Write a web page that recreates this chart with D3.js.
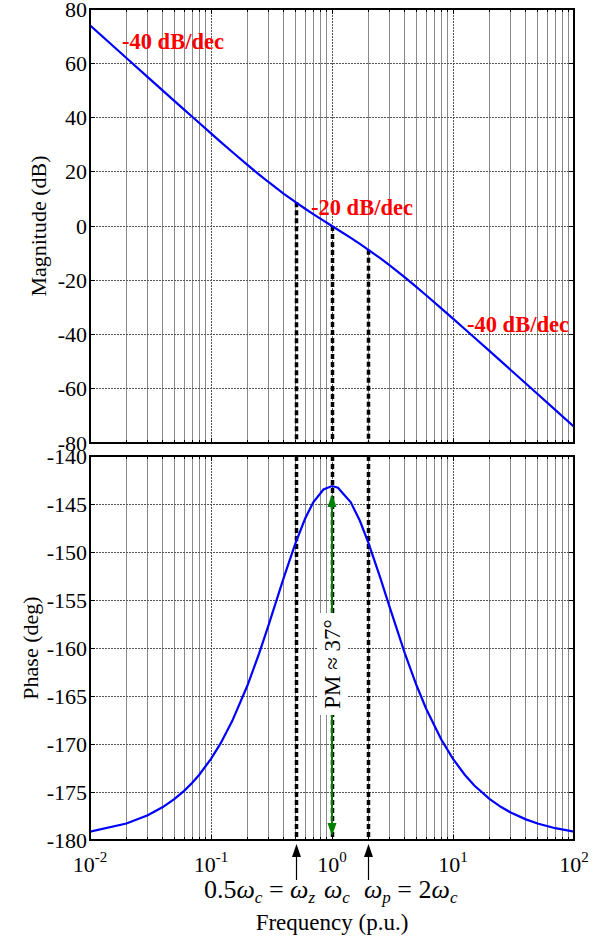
<!DOCTYPE html>
<html>
<head>
<meta charset="utf-8">
<script src="https://cdn.jsdelivr.net/npm/d3@7/dist/d3.min.js"></script>
<style>
  html, body { margin: 0; padding: 0; background: #fff; }
  svg { display: block; }
  text { font-family: "Liberation Serif", "Times New Roman", serif; }
</style>
</head>
<body>
<svg id="chart" width="602" height="938"></svg>
<script>
// Open-loop frequency response (per-unit frequency)
const freq = [0.01, 0.02, 0.03, 0.04, 0.05, 0.06, 0.07, 0.08, 0.1, 0.12, 0.15, 0.2, 0.25, 0.3, 0.4,
  0.5, 0.6, 0.7, 0.85, 1.0, 1.12, 1.43, 1.7, 2.0, 2.5, 3, 4, 5, 6, 8, 10, 12.5, 15, 20, 25, 30, 40, 50, 70, 100];
const magnitudeDb = [73.98, 61.94, 54.91, 49.92, 46.06, 42.91, 40.26, 37.96, 34.14, 31.04, 27.29, 22.54, 18.96, 16.13, 11.88,
  8.77, 6.35, 4.39, 1.98, 0.0, -1.38, -4.40, -6.61, -8.77, -11.88, -14.54, -18.96, -22.54, -25.53, -30.35,
  -34.14, -37.96, -41.10, -46.06, -49.92, -53.08, -58.07, -61.94, -67.79, -73.98];
const phaseDeg = [-179.14, -178.28, -177.43, -176.57, -175.72, -174.88, -174.04, -173.20, -171.55, -169.94, -167.59, -163.91, -160.56, -157.57, -152.65,
  -149.04, -146.51, -144.83, -143.49, -143.13, -143.31, -144.83, -146.75, -149.04, -152.65, -155.77, -160.56, -163.91, -166.33, -169.54,
  -171.55, -173.20, -174.32, -175.72, -176.57, -177.14, -177.85, -178.28, -178.77, -179.14];

const magTicks = [80, 60, 40, 20, 0, -20, -40, -60, -80];
const phaseTicks = [-140, -145, -150, -155, -160, -165, -170, -175, -180];
const decadeTicks = [0.01, 0.1, 1, 10, 100];
const decadeExponents = ["-2", "-1", "0", "1", "2"];

// Corner frequencies: zero, crossover, pole
const markerFreqs = [0.5, 1, 2];
const slopeLabels = ["-40 dB/dec", "-20 dB/dec", "-40 dB/dec"];
const phaseMarginLabel = "PM \u2248 37\u00B0";

const svg = d3.select("#chart");
const left = 90, right = 574;
const x = d3.scaleLog().domain([0.01, 100]).range([left, right]);
const yMag = d3.scaleLinear().domain([-80, 80]).range([443, 9]);
const yPh = d3.scaleLinear().domain([-180, -140]).range([840, 456]);

// minor + major vertical grid positions
const gridFreqs = [];
for (let e = -2; e <= 1; e++) for (let k = 1; k <= 9; k++) gridFreqs.push(k * Math.pow(10, e));
gridFreqs.push(100);

function drawPanel(y, ticks) {
  const g = svg.append("g");
  const [y0, y1] = y.range(); // bottom, top
  // vertical grid
  g.selectAll("line.vg").data(gridFreqs.filter(f => f > 0.01 && f < 100)).join("line")
    .attr("x1", d => x(d)).attr("x2", d => x(d)).attr("y1", y1).attr("y2", y0)
    .attr("stroke", d => decadeTicks.includes(d) ? "#555" : "#8a8a8a")
    .attr("stroke-width", 1)
    .attr("stroke-dasharray", d => decadeTicks.includes(d) ? "2,1" : null)
    .attr("shape-rendering", "crispEdges");
  // horizontal grid
  g.selectAll("line.hg").data(ticks.slice(1, -1)).join("line")
    .attr("x1", left).attr("x2", right).attr("y1", d => y(d)).attr("y2", d => y(d))
    .attr("stroke", "#555").attr("stroke-width", 1).attr("stroke-dasharray", "2,1")
    .attr("shape-rendering", "crispEdges");
  // x tick marks (inside, top and bottom)
  const tk = g.append("g");
  gridFreqs.forEach(f => {
    const len = decadeTicks.includes(f) ? 5 : 3;
    tk.append("line").attr("x1", x(f)).attr("x2", x(f)).attr("y1", y0).attr("y2", y0 - len)
      .attr("stroke", "#000").attr("stroke-width", 1).attr("shape-rendering", "crispEdges");
    tk.append("line").attr("x1", x(f)).attr("x2", x(f)).attr("y1", y1).attr("y2", y1 + len)
      .attr("stroke", "#000").attr("stroke-width", 1).attr("shape-rendering", "crispEdges");
  });
  // y ticks (inside, left and right)
  ticks.forEach(t => {
    tk.append("line").attr("x1", left).attr("x2", left + 5).attr("y1", y(t)).attr("y2", y(t))
      .attr("stroke", "#000").attr("shape-rendering", "crispEdges");
    tk.append("line").attr("x1", right).attr("x2", right - 5).attr("y1", y(t)).attr("y2", y(t))
      .attr("stroke", "#000").attr("shape-rendering", "crispEdges");
  });
  // y tick labels
  g.selectAll("text.yt").data(ticks).join("text")
    .attr("x", left - 3).attr("y", d => y(d)).attr("dy", "0.35em")
    .attr("text-anchor", "end").attr("font-size", 22).text(d => d);
  return g;
}

drawPanel(yMag, magTicks);
drawPanel(yPh, phaseTicks);

// clip paths for the curves
const defs = svg.append("defs");
defs.append("clipPath").attr("id", "clipMag").append("rect")
  .attr("x", left).attr("y", 9).attr("width", right - left).attr("height", 443 - 9);
defs.append("clipPath").attr("id", "clipPh").append("rect")
  .attr("x", left).attr("y", 456).attr("width", right - left).attr("height", 840 - 456);

// dashed markers at the corner frequencies
markerFreqs.forEach(f => {
  const i = freq.indexOf(f);
  const mx = Math.round(x(f)) + 0.5;
  svg.append("line").attr("x1", mx).attr("x2", mx)
    .attr("y1", yMag(magnitudeDb[i])).attr("y2", 443)
    .attr("stroke", "#000").attr("stroke-width", 3.5).attr("stroke-dasharray", "5,3");
  svg.append("line").attr("x1", mx).attr("x2", mx)
    .attr("y1", 456).attr("y2", 840)
    .attr("stroke", "#000").attr("stroke-width", 3.5).attr("stroke-dasharray", "5,3");
});

// phase margin annotation
const peakIdx = freq.indexOf(1);
const pmX = x(1);
svg.append("rect").attr("x", pmX - 15).attr("y", 613).attr("width", 30).attr("height", 102).attr("fill", "#fff");
const green = "#008000";
svg.append("line").attr("x1", pmX).attr("x2", pmX).attr("y1", yPh(phaseDeg[peakIdx]) + 18).attr("y2", 613)
  .attr("stroke", green).attr("stroke-width", 2);
svg.append("line").attr("x1", pmX).attr("x2", pmX).attr("y1", 715).attr("y2", 826)
  .attr("stroke", green).attr("stroke-width", 2);
const tipTop = yPh(phaseDeg[peakIdx]) + 8;
svg.append("path").attr("d", `M${pmX},${tipTop} L${pmX - 4.5},${tipTop + 13} L${pmX + 4.5},${tipTop + 13} Z`).attr("fill", green);
const tipBot = 836;
svg.append("path").attr("d", `M${pmX},${tipBot} L${pmX - 4.5},${tipBot - 13} L${pmX + 4.5},${tipBot - 13} Z`).attr("fill", green);
svg.append("text").attr("transform", `translate(${pmX + 8},664) rotate(-90)`)
  .attr("text-anchor", "middle").attr("font-size", 23).text(phaseMarginLabel);

// curves
const line = (yS, vals) => d3.line().x((d, i) => x(freq[i])).y((d, i) => yS(vals[i]))(vals);
svg.append("path").attr("d", line(yMag, magnitudeDb)).attr("clip-path", "url(#clipMag)")
  .attr("fill", "none").attr("stroke", "#0000ff").attr("stroke-width", 2.2);
svg.append("path").attr("d", line(yPh, phaseDeg)).attr("clip-path", "url(#clipPh)")
  .attr("fill", "none").attr("stroke", "#0000ff").attr("stroke-width", 2.2);

// frames
[[9, 443], [456, 840]].forEach(([t, b]) => {
  svg.append("rect").attr("x", left).attr("y", t).attr("width", right - left).attr("height", b - t)
    .attr("fill", "none").attr("stroke", "#000").attr("stroke-width", 2);
});

// slope labels
const slopePos = [[122, 49], [311, 215], [467, 332]];
slopeLabels.forEach((s, i) => {
  svg.append("text").attr("x", slopePos[i][0]).attr("y", slopePos[i][1])
    .attr("fill", "#ff0000").attr("font-weight", "bold").attr("font-size", 22.5).text(s);
});

// x tick labels (10^n)
decadeTicks.forEach((f, i) => {
  const t = svg.append("text").attr("x", x(f)).attr("y", 872).attr("text-anchor", "middle").attr("font-size", 22);
  t.append("tspan").text("10");
  t.append("tspan").attr("dy", -10).attr("font-size", 15).text(decadeExponents[i]);
});

// axis titles
svg.append("text").attr("transform", "translate(46,226) rotate(-90)").attr("text-anchor", "middle")
  .attr("font-size", 22).text("Magnitude (dB)");
svg.append("text").attr("transform", "translate(38,648) rotate(-90)").attr("text-anchor", "middle")
  .attr("font-size", 22).text("Phase (deg)");
svg.append("text").attr("x", 332).attr("y", 930).attr("text-anchor", "middle")
  .attr("font-size", 23).text("Frequency (p.u.)");

// arrows under the axis at the zero and pole frequencies
[0.5, 2].forEach(f => {
  const ax = Math.round(x(f)) + 0.5;
  svg.append("line").attr("x1", ax).attr("x2", ax).attr("y1", 880).attr("y2", 852)
    .attr("stroke", "#000").attr("stroke-width", 1.2);
  svg.append("path").attr("d", `M${ax},${844} L${ax - 4.5},${857} L${ax + 4.5},${857} Z`).attr("fill", "#000");
});

// frequency relations
function mathLabel(xPos, parts) {
  const t = svg.append("text").attr("x", xPos).attr("y", 898).attr("font-size", 26);
  parts.forEach(p => {
    const s = t.append("tspan").text(p.t);
    if (p.i) s.attr("font-style", "italic");
    if (p.sub) s.attr("font-size", 17).attr("dy", 5);
    if (p.up) s.attr("dy", -5);
  });
}
mathLabel(204, [{t: "0.5"}, {t: "\u03C9", i: true}, {t: "c", i: true, sub: true}, {t: " = ", up: true},
  {t: "\u03C9", i: true}, {t: "z", i: true, sub: true}]);
mathLabel(324, [{t: "\u03C9", i: true}, {t: "c", i: true, sub: true}]);
mathLabel(364, [{t: "\u03C9", i: true}, {t: "p", i: true, sub: true}, {t: " = 2", up: true},
  {t: "\u03C9", i: true}, {t: "c", i: true, sub: true}]);
</script>
</body>
</html>
